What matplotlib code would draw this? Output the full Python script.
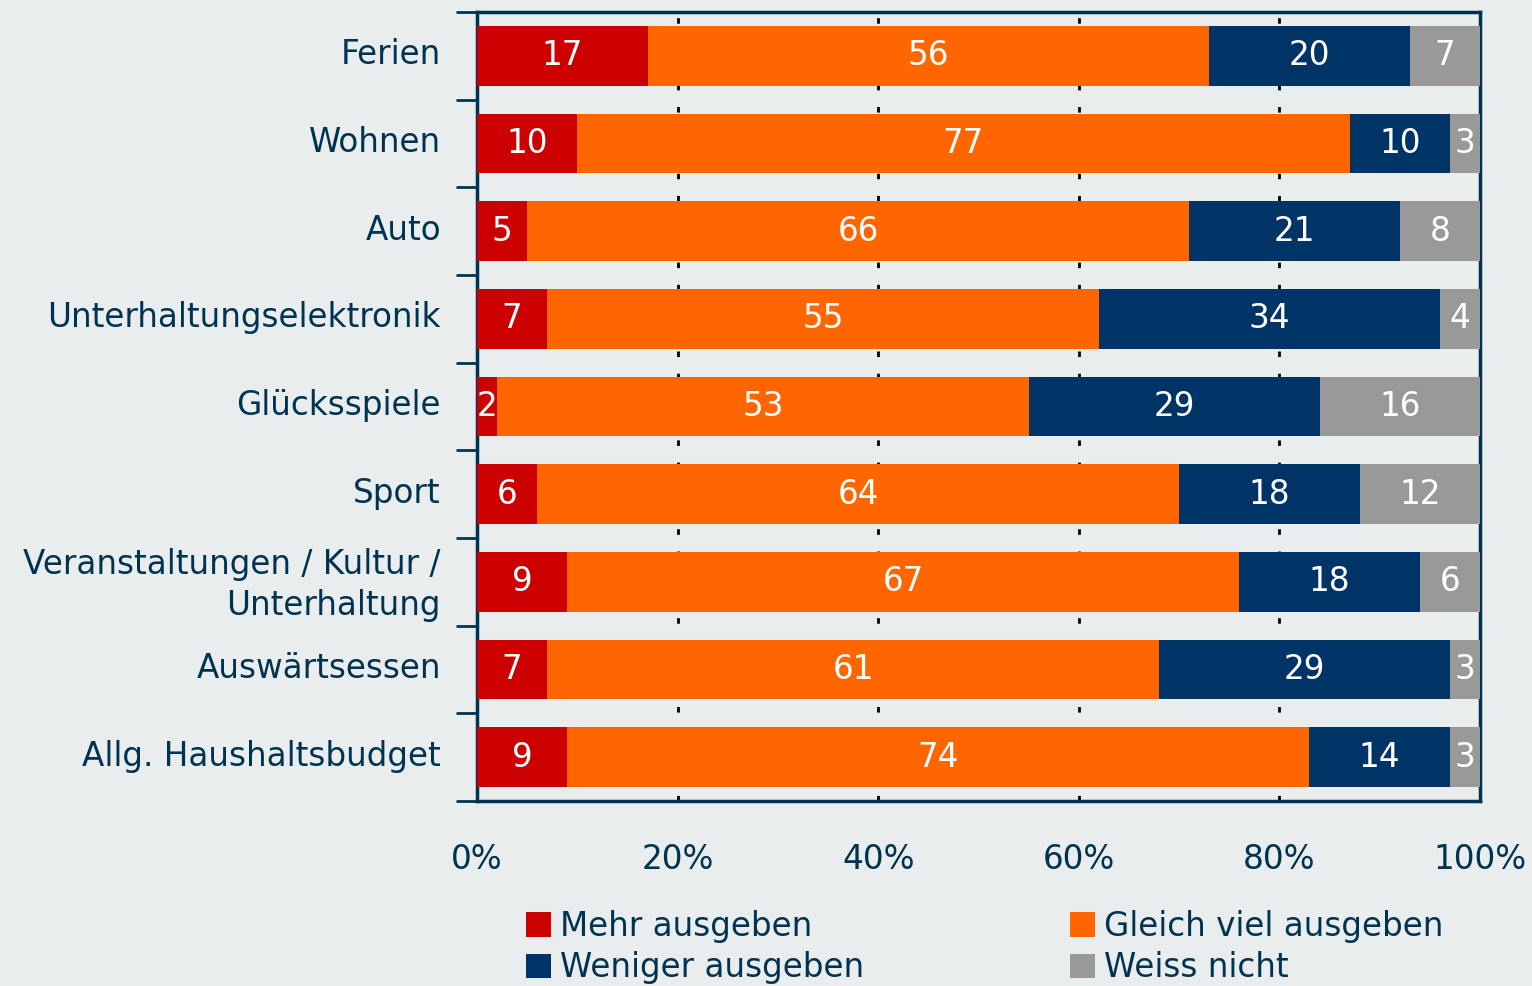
import numpy as np
import matplotlib.pyplot as plt

# Survey data (percent), top to bottom
categories = ["Ferien", "Wohnen", "Auto", "Unterhaltungselektronik", "Glücksspiele",
              "Sport", "Veranstaltungen / Kultur /\nUnterhaltung", "Auswärtsessen",
              "Allg. Haushaltsbudget"]
mehr = [17, 10, 5, 7, 2, 6, 9, 7, 9]
gleich = [56, 77, 66, 55, 53, 64, 67, 61, 74]
weniger = [20, 10, 21, 34, 29, 18, 18, 29, 14]
weiss = [7, 3, 8, 4, 16, 12, 6, 3, 3]

series = [mehr, gleich, weniger, weiss]
names = ["Mehr ausgeben", "Gleich viel ausgeben", "Weniger ausgeben", "Weiss nicht"]
colors = ["#CC0000", "#FF6600", "#003366", "#999999"]

bg = "#E9EDEE"
ink = "#003350"
fs = 23.5

fig = plt.figure(figsize=(15.32, 9.86), dpi=100, facecolor=bg)
ax = fig.add_axes([477/1532, 1-801/986, (1480-477)/1532, (801-12)/986])
ax.set_facecolor(bg)

y = np.arange(len(categories))
left = np.zeros(len(categories))
handles = []
for vals, name, col in zip(series, names, colors):
    vals = np.array(vals, dtype=float)
    b = ax.barh(y, vals, left=left, height=0.68, color=col, label=name, zorder=3)
    handles.append(b)
    for yi, l, v in zip(y, left, vals):
        ax.text(l + v/2, yi, f"{int(v)}", ha="center", va="center",
                color="white", fontsize=fs, zorder=4)
    left += vals

ax.set_xlim(0, 100)
ax.set_ylim(len(categories)-0.5, -0.5)

# category labels between boundary ticks
ax.set_yticks(np.arange(len(categories)+1) - 0.5)
ax.set_yticklabels([])
ax.set_yticks(y - 0.05, minor=True)
ax.set_yticklabels(categories, minor=True, fontsize=fs, color=ink, linespacing=1.3)
ax.tick_params(axis="y", which="minor", length=0, pad=26)
ax.tick_params(axis="y", which="major", length=15, width=2, color=ink)

ax.set_xticks([0, 20, 40, 60, 80, 100])
ax.set_xticklabels(["0%", "20%", "40%", "60%", "80%", "100%"], fontsize=fs, color=ink)
ax.tick_params(axis="x", length=0, pad=30)

ax.grid(axis="x", color="black", linestyle=(0, (2, 6)), linewidth=2, zorder=1)
ax.set_axisbelow(True)
for s in ax.spines.values():
    s.set_color(ink)
    s.set_linewidth(2.5)

order = [handles[0], handles[2], handles[1], handles[3]]
fig.legend(order, [h.get_label() for h in order], ncol=2, frameon=False,
           loc="upper left", bbox_to_anchor=(526/1532, 1-910/986),
           fontsize=fs, labelcolor=ink, handlelength=0.77, handleheight=0.77,
           handletextpad=0.28, columnspacing=6.3, labelspacing=0.25,
           borderaxespad=0, borderpad=0)

fig.savefig("out.png", dpi=100, facecolor=bg)
